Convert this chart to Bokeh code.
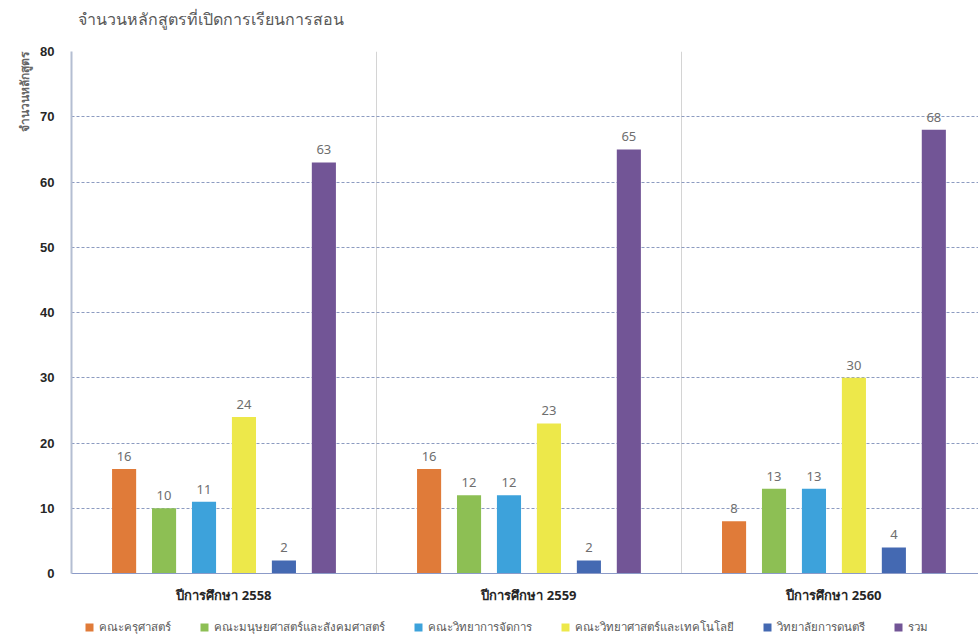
from bokeh.plotting import figure
from bokeh.layouts import column
from bokeh.models import (ColumnDataSource, FixedTicker, Legend, LegendItem, Range1d,
                          Title, LabelSet, Label)
from bokeh.core.properties import value
from bokeh.embed import file_html
from bokeh.resources import INLINE

years = ["ปีการศึกษา 2558", "ปีการศึกษา 2559", "ปีการศึกษา 2560"]
faculties = ["คณะครุศาสตร์", "คณะมนุษยศาสตร์และสังคมศาสตร์", "คณะวิทยาการจัดการ",
             "คณะวิทยาศาสตร์และเทคโนโลยี", "วิทยาลัยการดนตรี", "รวม"]
values = {
    "คณะครุศาสตร์": [16, 16, 8],
    "คณะมนุษยศาสตร์และสังคมศาสตร์": [10, 12, 13],
    "คณะวิทยาการจัดการ": [11, 12, 13],
    "คณะวิทยาศาสตร์และเทคโนโลยี": [24, 23, 30],
    "วิทยาลัยการดนตรี": [2, 2, 4],
    "รวม": [63, 65, 68],
}
colors = ["#E07B39", "#8DBF54", "#3DA2DB", "#EDE84A", "#4469B2", "#725596"]
title_text = "จำนวนหลักสูตรที่เปิดการเรียนการสอน"
y_title = "จำนวนหลักสูตร"

FONT = "Noto Sans"
W = 978
H_TITLE, H_MAIN, H_LEG = 30, 576, 28


def strip(h):
    s = figure(width=W, height=h, output_backend="svg", toolbar_location=None,
               x_range=Range1d(-20, -10), y_range=Range1d(0, 1),
               min_border=0, x_axis_location=None, y_axis_location=None)
    s.outline_line_color = None
    s.xgrid.visible = False
    s.ygrid.visible = False
    return s


# title strip
tp = strip(H_TITLE)
tp.add_layout(Label(x=6, y=12, x_units="screen", y_units="screen", text=title_text,
                    text_font=FONT, text_font_size="16px", text_color="#595959",
                    text_baseline="middle"))

# main chart
p = figure(width=W, height=H_MAIN, output_backend="svg", toolbar_location=None,
           x_range=Range1d(0, 2.974), y_range=Range1d(0, 80),
           min_border_left=71, min_border_right=0, min_border_top=21, min_border_bottom=33)
p.outline_line_color = None
p.background_fill_color = "white"
p.add_layout(Title(text=y_title, align="right", text_font=FONT, text_font_size="12px",
                   text_font_style="bold", text_color="#666666"), "left")

# legend strip
lp = strip(H_LEG)

spacing = 0.131
bw = 0.079
items = []
for j, f in enumerate(faculties):
    xs = [i + 0.5 + (j - 2.5) * spacing for i in range(len(years))]
    src = ColumnDataSource(dict(x=xs, top=values[f], lab=[str(v) for v in values[f]]))
    p.vbar(x="x", top="top", width=bw, source=src, fill_color=colors[j], line_color=None)
    p.add_layout(LabelSet(x="x", y="top", text="lab", source=src, text_align="center",
                          y_offset=8, text_font_size=value("13px"), text_color="#6E6E6E",
                          text_font=value(FONT)))
    # same data in the legend strip, whose x range shows none of it
    lr = lp.vbar(x="x", top="top", width=bw, source=src, fill_color=colors[j], line_color=None)
    items.append(LegendItem(label=f, renderers=[lr]))

legend = Legend(items=items, orientation="horizontal", location=(13, -2),
                label_text_font=FONT, label_text_font_size="11.5px", label_text_color="#595959",
                glyph_width=10, glyph_height=10, spacing=28, padding=0, margin=0,
                border_line_color=None, background_fill_alpha=0, label_standoff=5,
                label_height=12)
lp.add_layout(legend)

xa = p.xaxis[0]
xa.ticker = FixedTicker(ticks=[0.5, 1.5, 2.5])
xa.major_label_overrides = {0.5: years[0], 1.5: years[1], 2.5: years[2]}
xa.major_label_text_font = FONT
xa.major_label_text_font_size = "13px"
xa.major_label_text_font_style = "bold"
xa.major_label_text_color = "#262626"
xa.major_tick_line_color = None
xa.minor_tick_line_color = None
xa.axis_line_color = "#8C9BC8"
xa.major_label_standoff = 6

ya = p.yaxis[0]
ya.ticker = FixedTicker(ticks=list(range(0, 81, 10)))
ya.major_label_text_font = "Liberation Sans"
ya.major_label_text_font_size = "13px"
ya.major_label_text_font_style = "bold"
ya.major_label_text_color = "#262626"
ya.major_tick_line_color = None
ya.minor_tick_line_color = None
ya.axis_line_color = "#B4BED2"
ya.axis_line_width = 2
ya.major_label_standoff = 11

p.ygrid.ticker = FixedTicker(ticks=list(range(10, 81, 10)))
p.ygrid.grid_line_color = "#8C9BC0"
p.ygrid.grid_line_dash = "3 2"
p.xgrid.ticker = FixedTicker(ticks=[1, 2])
p.xgrid.grid_line_color = "#D4D4D4"
p.xgrid.grid_line_width = 1

layout = column(tp, p, lp, spacing=0)
open("out.html", "w").write(file_html(layout, INLINE))
